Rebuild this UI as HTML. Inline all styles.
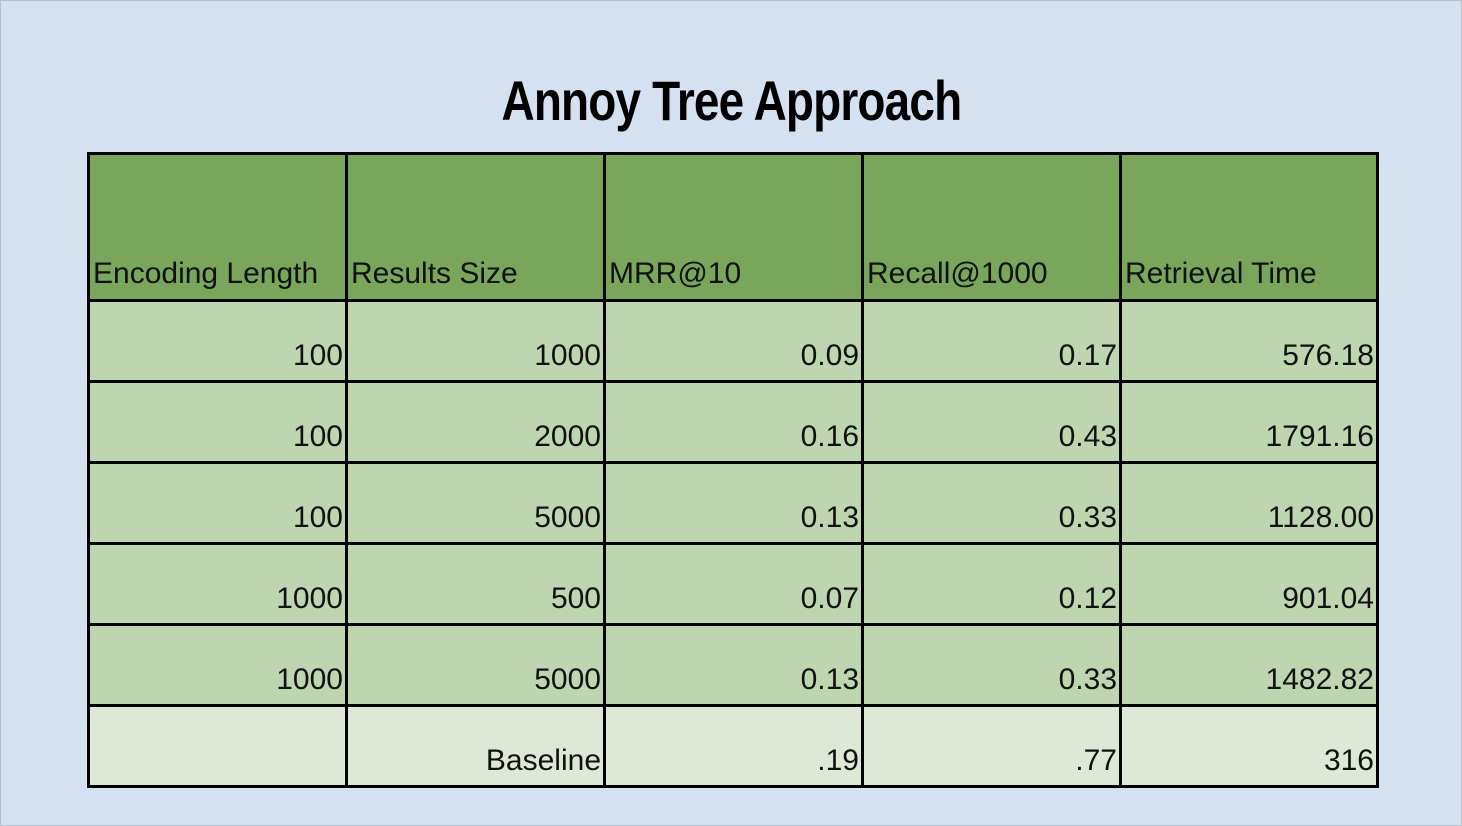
<!DOCTYPE html>
<html><head><meta charset="utf-8"><style>
html,body{margin:0;padding:0}
body{width:1462px;height:826px;background:#d4e1f1;position:relative;overflow:hidden;font-family:"Liberation Sans",Arial,sans-serif;}
#frame{position:absolute;left:0;top:0;width:1460px;height:824px;border:1px solid #b8bfc8;}
#title{position:absolute;left:0;width:1462px;top:68px;text-align:center;font-family:"Liberation Sans Narrow","Liberation Sans",sans-serif;font-weight:bold;font-size:56px;letter-spacing:-1px;color:#000;}
#title span{display:inline-block;transform:scaleX(0.82);}
.cell{position:absolute;box-sizing:border-box;border:3px solid #000;font-size:30px;color:#111;}
.h{background:#79a65b;}
.b{background:#bdd6b0;}
.z{background:#dde9d6;}
.t{position:absolute;white-space:nowrap;line-height:1;}
</style></head><body>
<div id="frame"></div>
<div id="title"><span>Annoy Tree Approach</span></div>
<div id="tbl"></div>
<script>
const headers=["Encoding Length","Results Size","MRR@10","Recall@1000","Retrieval Time"];
const rows=[
["100","1000","0.09","0.17","576.18"],
["100","2000","0.16","0.43","1791.16"],
["100","5000","0.13","0.33","1128.00"],
["1000","500","0.07","0.12","901.04"],
["1000","5000","0.13","0.33","1482.82"],
["","Baseline",".19",".77","316"]];
const xs=[87,345,603,861,1119,1376];
const ys=[152,299,380,461,542,623,704,785];
const tbl=document.getElementById('tbl');
function cell(c,r,cls,txt,header){
  const d=document.createElement('div');
  d.className='cell '+cls;
  
  
  d.style.left=xs[c]+'px';d.style.top=ys[r]+'px';
  d.style.width=(xs[c+1]-xs[c]+3)+'px';d.style.height=(ys[r+1]-ys[r]+3)+'px';
  const t=document.createElement('div');t.className='t';t.textContent=txt;
  if(header){t.style.left='3px';t.style.bottom='10px';}
  else{t.style.right='2px';t.style.bottom='9px';}
  d.appendChild(t);tbl.appendChild(d);
}
headers.forEach((h,c)=>cell(c,0,'h',h,true));
rows.forEach((row,r)=>row.forEach((v,c)=>cell(c,r+1,r===rows.length-1?'z':'b',v,false)));
</script>
</body></html>
